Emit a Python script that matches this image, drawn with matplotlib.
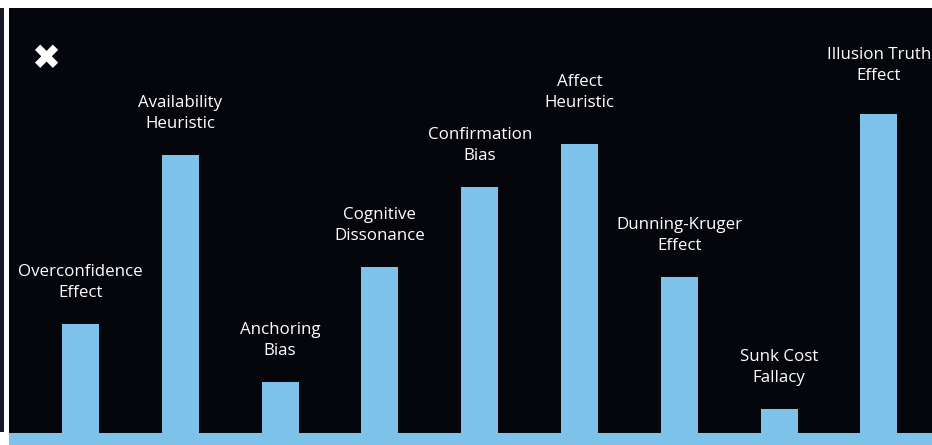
import matplotlib
matplotlib.use("Agg")
import matplotlib.pyplot as plt
from matplotlib.patches import Rectangle

biases = ["Overconfidence\nEffect", "Availability\nHeuristic", "Anchoring\nBias",
          "Cognitive\nDissonance", "Confirmation\nBias", "Affect\nHeuristic",
          "Dunning-Kruger\nEffect", "Sunk Cost\nFallacy", "Illusion Truth\nEffect"]
strength = [25.6, 65.4, 12.0, 39.0, 58.0, 68.0, 36.7, 5.6, 75.0]

bar_color = "#7cc2e9"
bg = "#05060b"

W, H = 932, 445
fig = plt.figure(figsize=(W / 100, H / 100), dpi=100, facecolor="white")

# thin dark strip on the far left edge
fig.patches.append(Rectangle((0, 13 / H), 3.5 / W, (432 - 8) / H, transform=fig.transFigure,
                             facecolor="#161a26", edgecolor="none"))

ax = fig.add_axes([9 / W, 0, (W - 9) / W, (H - 8) / H])
ax.set_facecolor(bg)
x = range(len(biases))
ax.bar(x, strength, width=0.371, color=bar_color, zorder=2)
ax.axhspan(-2.82, 0, color=bar_color, zorder=3, lw=0)

# a couple of labels sit a little higher above their bars
lift = {5: 7.5, 8: 5.5}
for i, v, name in zip(x, strength, biases):
    ax.annotate(name, (i, v), xytext=(0, 16.5 + lift.get(i, 0)), textcoords="offset points",
                ha="center", va="bottom", color="white", fontsize=12.2,
                family="Open Sans", linespacing=1.42)

ax.set_xlim(-0.716, 8.532)
ax.set_ylim(-2.82, 100)
for s in ax.spines.values():
    s.set_visible(False)
ax.set_xticks([])
ax.set_yticks([])

# close icon in the corner
fig.text(46 / W, 1 - 59 / H, "\u2716", color="white", fontsize=25,
         ha="center", va="center", family="DejaVu Sans")

fig.savefig("out.png", dpi=100, facecolor="white")
